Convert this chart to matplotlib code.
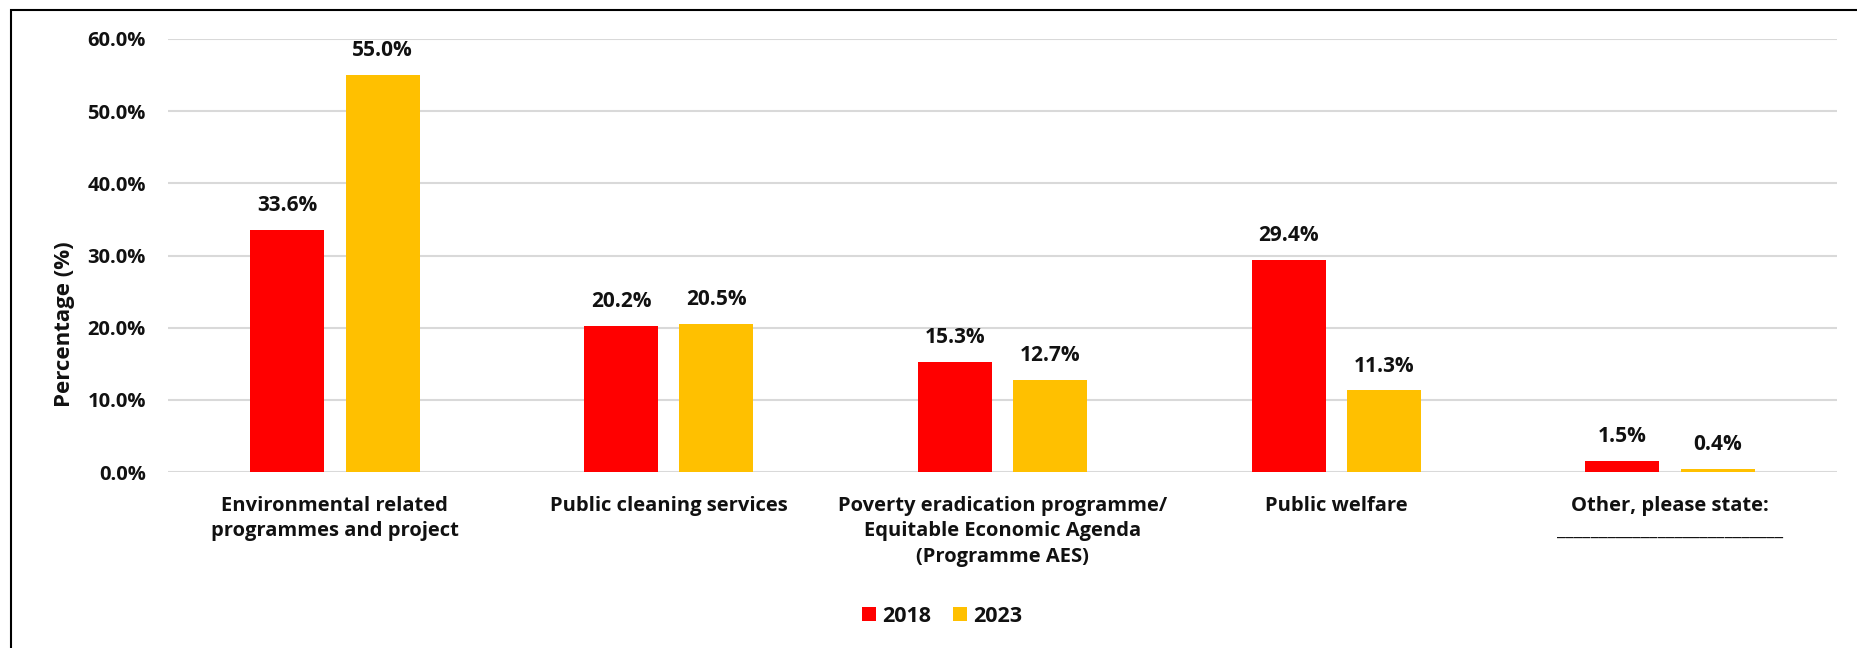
import matplotlib
matplotlib.use("Agg")
import matplotlib.pyplot as plt
from matplotlib.patches import Rectangle
import numpy as np

plt.rcParams['font.family'] = ['Open Sans', 'DejaVu Sans']
plt.rcParams['font.weight'] = 'bold'

categories = [
    "Environmental related\nprogrammes and project",
    "Public cleaning services",
    "Poverty eradication programme/\nEquitable Economic Agenda\n(Programme AES)",
    "Public welfare",
    "Other, please state:\n" + "_" * 27,
]
series_names = ["2018", "2023"]
values_2018 = [33.6, 20.2, 15.3, 29.4, 1.5]
values_2023 = [55.0, 20.5, 12.7, 11.3, 0.4]
colors = ["#FF0000", "#FFC000"]
yticks = [0, 10, 20, 30, 40, 50, 60]

W, H = 1858, 648
fig = plt.figure(figsize=(W / 100, H / 100), dpi=100)
ax = fig.add_axes([168 / W, 1 - 472 / H, (1837 - 168) / W, (472 - 39) / H])

x = np.arange(len(categories))
bw = 0.222
off = 0.143
fs = 14.5
ink = "#111111"

for vals, name, col, d in [(values_2018, series_names[0], colors[0], -off),
                           (values_2023, series_names[1], colors[1], off)]:
    bars = ax.bar(x + d, vals, width=bw, color=col, label=name, zorder=3)
    for b, v in zip(bars, vals):
        ax.annotate(f"{v:.1f}%", (b.get_x() + b.get_width() / 2, v),
                    xytext=(0, 10), textcoords="offset points",
                    ha="center", va="bottom", fontsize=15, fontweight="bold",
                    color=ink)

ax.set_xlim(-0.5, len(categories) - 0.5)
ax.set_ylim(0, 60)
ax.set_yticks(yticks)
ax.set_yticklabels([f"{t:.1f}%" for t in yticks], fontsize=fs, fontweight="bold",
                   color=ink)
ax.set_xticks(x)
ax.set_xticklabels(categories, fontsize=fs, fontweight="bold", color=ink,
                   linespacing=1.38, va="top")
ax.tick_params(axis="both", length=0)
ax.tick_params(axis="y", pad=16)
ax.tick_params(axis="x", pad=17)
ax.yaxis.grid(True, color="#D9D9D9", linewidth=1.5, zorder=0)
for s in ["top", "right", "left", "bottom"]:
    ax.spines[s].set_visible(False)

ax.set_ylabel("Percentage (%)", fontsize=16, fontweight="bold", color=ink)
ax.yaxis.set_label_coords(75 / W, 0.5, transform=fig.transFigure)

leg = fig.legend(loc="center", bbox_to_anchor=(942 / W, 1 - 616 / H), ncol=2,
                 frameon=False, fontsize=15.5, handlelength=0.65, handleheight=0.65,
                 handletextpad=0.3, columnspacing=1.0)
for t in leg.get_texts():
    t.set_fontweight("bold")
    t.set_color(ink)

# outer frame of the chart area
fig.add_artist(Rectangle((11 / W, -0.2), 1.2, 1 - 10 / H + 0.2,
                         transform=fig.transFigure, fill=False,
                         edgecolor="#000000", linewidth=1.5))

fig.savefig("out.png", dpi=100)
